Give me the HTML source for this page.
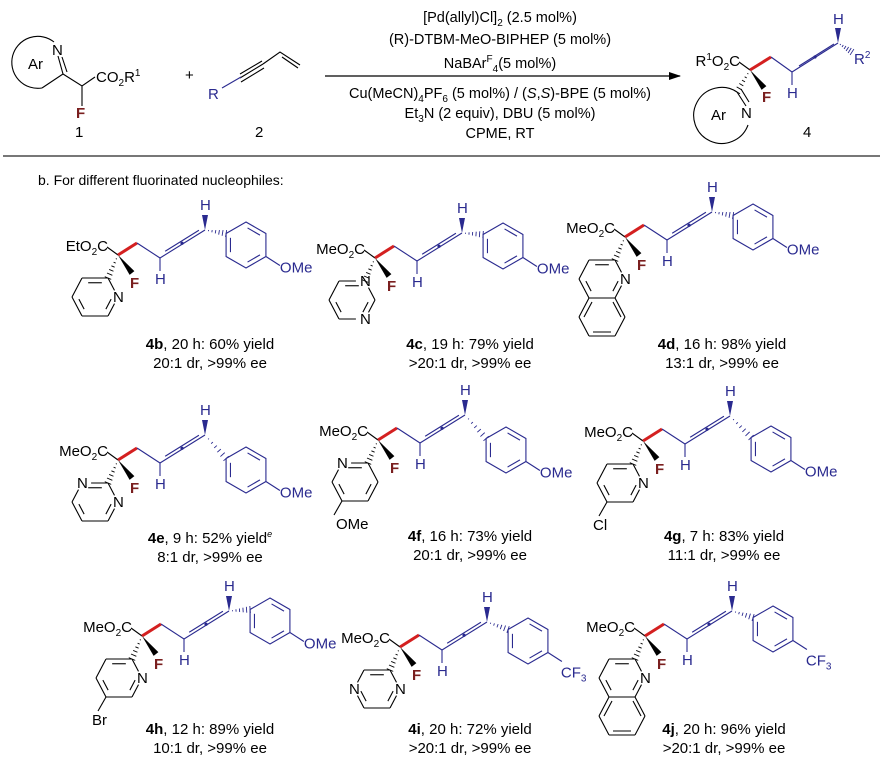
<!DOCTYPE html>
<html><head><meta charset="utf-8"><style>
html,body{margin:0;padding:0;background:#fff;width:882px;height:765px;overflow:hidden}
svg{display:block;font-family:"Liberation Sans",Arial,sans-serif}
</style></head><body>
<svg id="s" width="882" height="765" viewBox="0 0 882 765" xmlns="http://www.w3.org/2000/svg">
<defs><marker id="ah" markerWidth="12" markerHeight="8" refX="11" refY="4" orient="auto" markerUnits="userSpaceOnUse"><path d="M0,0 L12,4 L0,8 Z" fill="#000"/></marker></defs>
<g font-size="14.5" text-anchor="middle" fill="#000">
<text x="500" y="22">[Pd(allyl)Cl]<tspan font-size="10" dy="4">2</tspan><tspan dy="-4"> (2.5 mol%)</tspan></text>
<text x="500" y="44">(R)-DTBM-MeO-BIPHEP (5 mol%)</text>
<text x="500" y="68">NaBAr<tspan font-size="10" dy="-6">F</tspan><tspan font-size="10" dy="10">4</tspan><tspan dy="-4">(5 mol%)</tspan></text>
<text x="500" y="98">Cu(MeCN)<tspan font-size="10" dy="4">4</tspan><tspan dy="-4">PF</tspan><tspan font-size="10" dy="4">6</tspan><tspan dy="-4"> (5 mol%) / (</tspan><tspan font-style="italic">S</tspan>,<tspan font-style="italic">S</tspan>)-BPE (5 mol%)</text>
<text x="500" y="118">Et<tspan font-size="10" dy="4">3</tspan><tspan dy="-4">N (2 equiv), DBU (5 mol%)</tspan></text>
<text x="500" y="138">CPME, RT</text>
</g>
<line x1="325" y1="76" x2="680" y2="76" stroke="#000" stroke-width="1.3" marker-end="url(#ah)"/>
<line x1="3" y1="156" x2="880" y2="156" stroke="#777" stroke-width="2"/>
<text x="38" y="185" font-size="14">b. For different fluorinated nucleophiles:</text>
<!-- compound 1 -->
<g stroke="#000" stroke-width="1.1" fill="none">
<path d="M54,42 A26,26 0 1 0 42,88"/>
<path d="M42,88 L63,74 L58,56 M67,72 L62,57"/>
<path d="M63,74 L82,86 L95,77 M82,86 L82,106"/>
</g>
<text x="28" y="69" font-size="15">Ar</text>
<text x="52" y="55" font-size="15">N</text>
<text x="96" y="82" font-size="15">CO<tspan font-size="10" dy="4">2</tspan><tspan dy="-4">R</tspan><tspan font-size="10" dy="-6">1</tspan></text>
<text x="76" y="118" font-size="15" font-weight="bold" fill="#7a1f1f">F</text>
<text x="75" y="137" font-size="15">1</text>
<text x="185" y="80" font-size="15">+</text>
<!-- compound 2 -->
<g stroke="#000" stroke-width="1.1" fill="none">
<path d="M240,78 L263,64 M240,74 L262,61 M241,82 L264,68"/>
<path d="M263,64 L280,52 L300,65 M282,57 L298,68"/>
</g>
<line x1="222" y1="88" x2="241" y2="77" stroke="#2a2a8f" stroke-width="1.1"/>
<text x="208" y="99" font-size="15" fill="#2a2a8f">R</text>
<text x="255" y="137" font-size="15">2</text>
<g id="mols"></g>
</svg>
<script>
var NS="http://www.w3.org/2000/svg",G=document.getElementById('mols');
function el(t,a,txt){var e=document.createElementNS(NS,t);for(var k in a)e.setAttribute(k,a[k]);if(txt!==undefined)e.innerHTML=txt;G.appendChild(e);return e;}
var B="#2a2a8f",R="#d42020",FR="#7a1f1f";
function line(x1,y1,x2,y2,c,w){el('line',{x1:x1,y1:y1,x2:x2,y2:y2,stroke:c||'#000','stroke-width':w||1.1});}
function wedge(x1,y1,x2,y2,c){var dx=x2-x1,dy=y2-y1,L=Math.hypot(dx,dy),nx=-dy/L*3,ny=dx/L*3;el('polygon',{points:x1+','+y1+' '+(x2+nx)+','+(y2+ny)+' '+(x2-nx)+','+(y2-ny),fill:c||'#000'});}
function hash(x1,y1,x2,y2,c){var dx=x2-x1,dy=y2-y1,L=Math.hypot(dx,dy),nx=-dy/L,ny=dx/L;for(var i=1;i<=6;i++){var t=i/6,w=t*3.5,px=x1+dx*t,py=y1+dy*t;line(px+nx*w,py+ny*w,px-nx*w,py-ny*w,c,0.9);}}
function txt(x,y,s,o){o=o||{};var a={x:x,y:y,'font-size':o.fs||15,fill:o.c||'#000'};if(o.a)a['text-anchor']=o.a;if(o.b)a['font-weight']='bold';el('text',a,s);}
function mol(cx,cy,est,dy,cf3,het,lab,l1,l2,ly){
 txt(cx-10,cy-4,est+'O<tspan font-size="10" dy="4">2</tspan><tspan dy="-4">C</tspan>',{a:'end'});
 line(cx-11,cy-8,cx,cy);
 line(cx,cy,cx+19,cy-12,R,3);
 line(cx+19,cy-12,cx+42,cy+3,B);
 var ex=cx+87,ey=cy-25,sx=cx+42,sy=cy+3;
 line(sx,sy,ex,ey,B);
 var dx=ex-sx,ddy=ey-sy,L=Math.hypot(dx,ddy),nx=-ddy/L*3,ny=dx/L*3;
 line(sx+dx*0.15-nx,sy+ddy*0.15-ny,ex-dx*0.1-nx,ey-ddy*0.1-ny,B);
 el('circle',{cx:sx+dx*0.5-nx*0.3,cy:sy+ddy*0.5-ny*0.3,r:1.6,fill:B});
 line(sx,sy,sx,sy+13,B);txt(sx-5,sy+26,'H',{c:B});
 wedge(ex,ey,ex,ey-15,B);txt(ex-5,ey-20,'H',{c:B});
 var rx=cx+128,ry=cy-10+dy,r=23,v=[];
 for(var i=0;i<6;i++){var a=(-90+60*i)*Math.PI/180;v.push([rx+r*Math.cos(a),ry+r*Math.sin(a)]);}
 hash(ex,ey,v[5][0],v[5][1],B);
 el('polygon',{points:v.map(function(p){return p.join(',')}).join(' '),fill:'none',stroke:B,'stroke-width':1.1});
 [[0,1],[2,3],[4,5]].forEach(function(e){var p=v[e[0]],q=v[e[1]];var ix=(p[0]-rx)*0.78+rx,iy=(p[1]-ry)*0.78+ry,jx=(q[0]-rx)*0.78+rx,jy=(q[1]-ry)*0.78+ry;line(ix+(jx-ix)*0.1,iy+(jy-iy)*0.1,jx-(jx-ix)*0.1,jy-(jy-iy)*0.1,B);});
 line(v[2][0],v[2][1],v[2][0]+14,v[2][1]+9,B);
 if(cf3){txt(v[2][0]+13,v[2][1]+25,'CF<tspan font-size="10" dy="4">3</tspan>',{c:B});}
 else{txt(v[2][0]+14,v[2][1]+16,'OMe',{c:B});}
 wedge(cx,cy,cx+14,cy+18);txt(cx+12,cy+33,'F',{c:FR,b:1});
 var ax=cx-10,ay=cy+23;hash(cx,cy,ax,ay);
 var p=[[ax-26,ay],[ax,ay],[ax+10,ay+19],[ax,ay+38],[ax-26,ay+38],[ax-36,ay+19]];
 var lbl=het.n;
 for(var i=0;i<6;i++){var a=p[i],b=p[(i+1)%6];
   var sa=lbl.indexOf(i)>=0?0.35:0,sb=lbl.indexOf((i+1)%6)>=0?0.35:0;
   line(a[0]+(b[0]-a[0])*sa,a[1]+(b[1]-a[1])*sa,b[0]-(b[0]-a[0])*sb,b[1]-(b[1]-a[1])*sb);}
 lbl.forEach(function(i){txt(p[i][0]-5,p[i][1]+5,'N',{});});
 var hc=[ax-13,ay+19];
 [[0,1],[2,3],[4,5]].forEach(function(e){var a=p[e[0]],b=p[e[1]];var ia=[hc[0]+(a[0]-hc[0])*0.75,hc[1]+(a[1]-hc[1])*0.75],ib=[hc[0]+(b[0]-hc[0])*0.75,hc[1]+(b[1]-hc[1])*0.75];line(ia[0]+(ib[0]-ia[0])*0.15,ia[1]+(ib[1]-ia[1])*0.15,ib[0]-(ib[0]-ia[0])*0.15,ib[1]-(ib[1]-ia[1])*0.15);});
 if(het.sub){var s=p[4];line(s[0],s[1],s[0]-8,s[1]+14);txt(s[0]-(het.sub=='OMe'?6:14),s[1]+28,het.sub,{});}
 if(het.q){var b1=[ax-26,ay+38],b2=[ax,ay+38];var qq=[[ax-36,ay+57],[ax-26,ay+76],[ax,ay+76],[ax+10,ay+57]];
   line(b1[0],b1[1],qq[0][0],qq[0][1]);line(qq[0][0],qq[0][1],qq[1][0],qq[1][1]);line(qq[1][0],qq[1][1],qq[2][0],qq[2][1]);line(qq[2][0],qq[2][1],qq[3][0],qq[3][1]);line(qq[3][0],qq[3][1],b2[0],b2[1]);
   line(ax-22,ay+72,ax-4,ay+72);line(ax-31,ay+57,ax-23,ay+42);line(ax+6,ay+57,ax-2,ay+42);}
 txt(ly[0],ly[1],'<tspan font-weight="bold">'+lab+'</tspan>'+l1,{a:'middle'});
 txt(ly[0],ly[1]+19,l2,{a:'middle'});
}
mol(118,255,'Et',0,0,{n:[2]},'4b',', 20 h: 60% yield','20:1 dr, &gt;99% ee',[210,349]);
mol(375,258,'Me',-2,0,{n:[1,3]},'4c',', 19 h: 79% yield','&gt;20:1 dr, &gt;99% ee',[470,349]);
mol(625,237,'Me',0,0,{n:[2],q:1},'4d',', 16 h: 98% yield','13:1 dr, &gt;99% ee',[722,349]);
mol(118,460,'Me',20,0,{n:[0,2]},'4e',', 9 h: 52% yield<tspan font-size="9" dy="-6" font-style="italic">e</tspan>','8:1 dr, &gt;99% ee',[210,543]);
mol(378,440,'Me',20,0,{n:[0],sub:'OMe'},'4f',', 16 h: 73% yield','20:1 dr, &gt;99% ee',[470,541]);
mol(643,441,'Me',18,0,{n:[2],sub:'Cl'},'4g',', 7 h: 83% yield','11:1 dr, &gt;99% ee',[724,541]);
mol(142,636,'Me',-5,0,{n:[2],sub:'Br'},'4h',', 12 h: 89% yield','10:1 dr, &gt;99% ee',[210,734]);
mol(400,647,'Me',4,1,{n:[2,5]},'4i',', 20 h: 72% yield','&gt;20:1 dr, &gt;99% ee',[470,734]);
mol(645,636,'Me',3,1,{n:[2],q:1},'4j',', 20 h: 96% yield','&gt;20:1 dr, &gt;99% ee',[724,734]);
(function(){var cx=750,cy=70;
 txt(cx-10,cy-4,'R<tspan font-size="10" dy="-6">1</tspan><tspan dy="6">O</tspan><tspan font-size="10" dy="4">2</tspan><tspan dy="-4">C</tspan>',{a:'end'});
 line(cx-11,cy-8,cx,cy);line(cx,cy,cx+21,cy-13,R,3);line(cx+21,cy-13,cx+42,cy+2,B);
 line(cx+42,cy+2,cx+88,cy-27,B);line(cx+49,cy-4,cx+84,cy-26,B);el('circle',{cx:cx+65,cy:cy-13,r:1.6,fill:B});
 line(cx+42,cy+2,cx+42,cy+15,B);txt(cx+37,cy+28,'H',{c:B});
 wedge(cx+88,cy-27,cx+88,cy-42,B);txt(cx+83,cy-46,'H',{c:B});
 hash(cx+88,cy-27,cx+102,cy-18,B);txt(cx+104,cy-6,'R<tspan font-size="10" dy="-6">2</tspan>',{c:B});
 wedge(cx,cy,cx+14,cy+18);txt(cx+12,cy+32,'F',{c:FR,b:1});
 hash(cx,cy,cx-13,cy+22);
 el('path',{d:'M'+(cx-13)+','+(cy+22)+' L'+(cx-4)+','+(cy+36)+' M'+(cx-9)+','+(cy+19)+' L'+(cx-1)+','+(cy+32),stroke:'#000',fill:'none','stroke-width':1.1});
 el('path',{d:'M737,92 A28,28 0 1 0 748,125',stroke:'#000',fill:'none','stroke-width':1.1});
 txt(711,120,'Ar',{});txt(741,118,'N',{});
 txt(803,137,'4',{});
})();
</script>
</body></html>
